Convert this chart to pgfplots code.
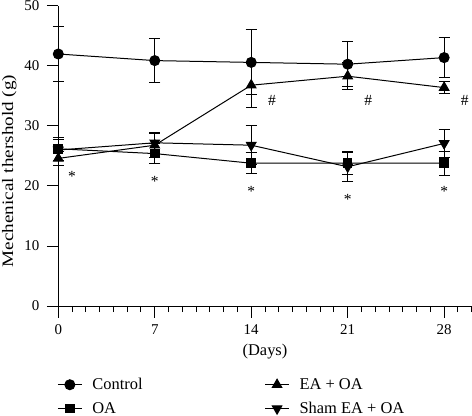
\documentclass[border=0pt]{standalone}
\usepackage{fontspec}
\setmainfont{Liberation Serif}
\newfontfamily\widefont[FakeStretch=1.2]{Liberation Serif}
\usepackage{pgfplots}
\pgfplotsset{compat=1.18}
\begin{document}
\begin{tikzpicture}
\begin{axis}[
 scale only axis, width=413.4bp, height=300bp,
 xmin=0, xmax=30, ymin=0, ymax=50,
 axis x line=bottom, axis y line=left,
 axis line style={-, line width=1bp, black},
 xtick={0,7,14,21,28}, minor xtick={1,...,30},
 ytick={0,10,...,50},
 tick align=outside, major tick length=11.5bp, minor tick length=6bp,
 every tick/.style={line width=1bp, black},
 /pgf/number format/assume math mode=true,
 tick label style={font=\fontsize{15}{18}\selectfont},
 xticklabel style={yshift=-4bp},
 yticklabel style={xshift=-4bp},
 xlabel={(Days)}, ylabel={Mechenical thershold (g)},
 xlabel style={font=\fontsize{16.5}{19}\selectfont, yshift=-2bp},
 ylabel style={font=\widefont\fontsize{16}{19}\selectfont, yshift=1bp, xshift=-15bp},
 clip=false,
 cycle list={{black}},
 legend columns=2,
 legend cell align=left,
 legend style={draw=none, fill=none, at={(axis description cs:-0.01,-0.227)}, anchor=north west,
   font=\fontsize{16.5}{19}\selectfont,
   /tikz/every odd column/.append style={column sep=8bp},
   /tikz/every even column/.append style={column sep=120bp},
   row sep=7bp},
 legend image code/.code={\draw[mark repeat=2,mark phase=2] plot coordinates {(0bp,0bp) (12bp,0bp) (24bp,0bp)};},
 error bars/error bar style={line width=1bp, black},
 error bars/error mark options={rotate=90, mark size=5.5bp, line width=1bp, black},
]
\addplot[black, line width=1bp, mark=*, mark size=5bp, mark options={solid, fill=black}, error bars/.cd, y dir=both, y explicit] table[x=x, y=y, y error=e] {
x y e
0 42.0 4.6
7 40.9 3.7
14 40.6 5.4
21 40.3 3.8
28 41.4 3.4
};
\addlegendentry{Control}
\addplot[black, line width=1bp, mark=triangle*, mark size=5.5bp, mark options={solid, fill=black}, error bars/.cd, y dir=both, y explicit] table[x=x, y=y, y error=e] {
x y e
0 24.6 1.2
7 26.8 2.0
14 36.8 3.8
21 38.3 2.3
28 36.4 1.0
};
\addlegendentry{EA + OA}
\addplot[black, line width=1bp, mark=square*, mark size=4.3bp, mark options={solid, fill=black}, error bars/.cd, y dir=both, y explicit] table[x=x, y=y, y error=e] {
x y e
0 26.2 1.9
7 25.4 1.6
14 23.8 1.7
21 23.8 1.9
28 23.8 2.0
};
\addlegendentry{OA}
\addplot[black, line width=1bp, mark=triangle*, mark size=5.5bp, mark options={solid, fill=black, rotate=180}, error bars/.cd, y dir=both, y explicit] table[x=x, y=y, y error=e] {
x y e
0 26.0 1.7
7 27.2 1.7
14 26.8 3.2
21 23.2 2.4
28 27.1 2.3
};
\addlegendentry{Sham EA + OA}
\begin{scope}[every node/.style={font=\fontsize{15.5}{18}\selectfont}]
\node at (axis cs:1,21.6) {*};
\node at (axis cs:7,20.8) {*};
\node at (axis cs:14,19.1) {*};
\node at (axis cs:21,17.7) {*};
\node at (axis cs:28,19.1) {*};
\node at (axis cs:15.5,34.3) {\#};
\node at (axis cs:22.5,34.3) {\#};
\node at (axis cs:29.5,34.3) {\#};
\end{scope}
\end{axis}
\pgfresetboundingbox
\path[use as bounding box] (-58.3bp,-110bp) rectangle (413.7bp,306bp);
\end{tikzpicture}
\end{document}
